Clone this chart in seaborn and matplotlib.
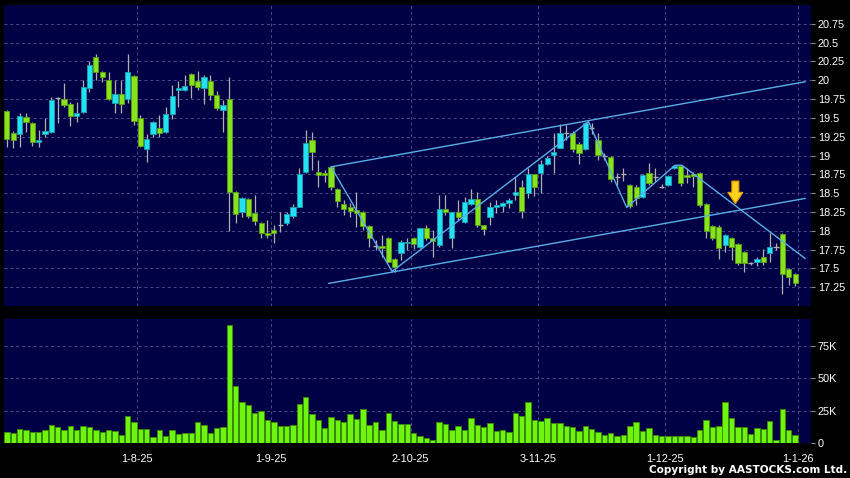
import numpy as np
import pandas as pd
import matplotlib
matplotlib.use("Agg")
import matplotlib.pyplot as plt
from matplotlib.patches import FancyArrow
import seaborn as sns

# daily candles (index = trading day)
opens = [19.59, 19.30, 19.29, 19.51, 19.43, 19.18, 19.29, 19.31, 19.76, 19.75,
         19.69, 19.53, 19.58, 19.90, 20.31, 20.11, 20.00, 19.70, 19.82, 19.75,
         20.06, 19.50, 19.09, 19.29, 19.37, 19.31, 19.55, 19.87, 19.87, 20.08,
         19.99, 19.90, 19.99, 19.81, 19.61, 19.75, 18.52, 18.25, 18.42, 18.24,
         18.10, 17.97, 18.01, 18.08, 18.10, 18.20, 18.32, 18.78, 19.21, 18.78,
         18.77, 18.85, 18.56, 18.36, 18.32, 18.28, 18.25, 18.06, 17.80, 17.80,
         17.91, 17.63, 17.71, 17.84, 17.91, 17.79, 18.03, 17.91, 17.81, 18.29,
         17.91, 18.25, 18.12, 18.36, 18.42, 18.07, 18.18, 18.32, 18.33, 18.37,
         18.48, 18.58, 18.50, 18.76, 18.77, 18.89, 19.01, 19.10, 19.30, 19.30,
         19.15, 19.09, 19.37, 19.21, 18.99, 18.98, 18.72, 18.76, 18.61, 18.58,
         18.45, 18.77, 18.72, 18.58, 18.61, 18.84, 18.86, 18.74, 18.76, 18.77,
         18.36, 18.06, 18.05, 17.81, 17.91, 17.83, 17.72, 17.57, 17.59, 17.65,
         17.71, 17.79, 17.96, 17.49, 17.43]
closes = [19.22, 19.21, 19.53, 19.45, 19.18, 19.21, 19.33, 19.74, 19.76, 19.67,
          19.53, 19.57, 19.91, 20.20, 20.11, 20.04, 19.75, 19.82, 19.69, 20.11,
          19.46, 19.13, 19.22, 19.45, 19.30, 19.55, 19.79, 19.90, 19.92, 19.94,
          19.91, 20.04, 19.81, 19.63, 19.67, 18.52, 18.22, 18.44, 18.20, 18.13,
          17.97, 17.95, 17.97, 18.08, 18.22, 18.32, 18.76, 19.17, 19.05, 18.74,
          18.74, 18.58, 18.40, 18.29, 18.26, 18.24, 18.06, 17.91, 17.80, 17.77,
          17.59, 17.52, 17.85, 17.85, 17.83, 18.03, 17.91, 17.87, 18.29, 18.25,
          18.25, 18.18, 18.38, 18.42, 18.07, 18.02, 18.32, 18.34, 18.37, 18.41,
          18.52, 18.26, 18.76, 18.58, 18.89, 18.97, 19.05, 19.30, 19.30, 19.09,
          19.03, 19.43, 19.37, 19.01, 18.99, 18.69, 18.72, 18.76, 18.33, 18.44,
          18.74, 18.64, 18.72, 18.58, 18.73, 18.86, 18.64, 18.72, 18.73, 18.34,
          18.00, 17.91, 17.77, 17.95, 17.79, 17.57, 17.57, 17.57, 17.63, 17.59,
          17.79, 17.79, 17.43, 17.39, 17.31]
highs = [19.61, 19.33, 19.57, 19.57, 19.45, 19.34, 19.50, 19.78, 19.78, 19.96,
         19.71, 19.71, 20.00, 20.26, 20.35, 20.12, 20.11, 20.00, 20.00, 20.35,
         20.07, 19.54, 19.29, 19.46, 19.54, 19.65, 19.94, 19.99, 20.07, 20.10,
         20.12, 20.07, 20.07, 19.86, 19.74, 20.04, 18.53, 18.45, 18.44, 18.48,
         18.12, 18.14, 18.08, 18.25, 18.25, 18.36, 18.84, 19.34, 19.31, 18.94,
         18.81, 18.86, 18.57, 18.41, 18.37, 18.52, 18.26, 18.08, 17.88, 17.95,
         17.92, 17.64, 17.88, 17.91, 17.92, 18.04, 18.07, 18.01, 18.48, 18.48,
         18.25, 18.41, 18.45, 18.56, 18.52, 18.07, 18.38, 18.41, 18.38, 18.44,
         18.72, 18.68, 18.84, 18.76, 18.94, 18.99, 19.30, 19.42, 19.41, 19.33,
         19.18, 19.45, 19.43, 19.30, 19.03, 18.99, 18.77, 18.84, 18.62, 18.61,
         18.76, 18.90, 18.84, 18.62, 18.74, 18.88, 18.88, 18.84, 18.78, 18.78,
         18.37, 18.07, 18.07, 17.96, 17.92, 17.84, 17.73, 17.59, 17.65, 17.76,
         17.97, 17.84, 17.97, 17.51, 17.44]
lows = [19.11, 19.10, 19.11, 19.31, 19.13, 19.11, 19.25, 19.30, 19.43, 19.65,
        19.39, 19.45, 19.57, 19.85, 20.00, 19.98, 19.74, 19.57, 19.57, 19.70,
        19.41, 19.11, 18.92, 19.25, 19.25, 19.30, 19.49, 19.65, 19.86, 19.77,
        19.87, 19.69, 19.74, 19.61, 19.31, 18.00, 18.10, 18.18, 18.17, 18.08,
        17.91, 17.91, 17.84, 17.99, 18.08, 18.17, 18.32, 18.77, 18.81, 18.58,
        18.65, 18.54, 18.32, 18.21, 18.18, 18.05, 18.01, 17.79, 17.75, 17.65,
        17.58, 17.45, 17.61, 17.75, 17.76, 17.77, 17.88, 17.65, 17.79, 18.21,
        17.77, 18.14, 18.10, 18.34, 18.05, 17.95, 18.08, 18.24, 18.25, 18.30,
        18.41, 18.17, 18.44, 18.46, 18.50, 18.88, 18.77, 19.10, 19.21, 19.05,
        18.89, 19.07, 19.29, 18.94, 18.94, 18.65, 18.61, 18.66, 18.30, 18.34,
        18.44, 18.61, 18.66, 18.57, 18.60, 18.82, 18.60, 18.64, 18.58, 18.32,
        17.91, 17.88, 17.63, 17.72, 17.61, 17.55, 17.45, 17.55, 17.53, 17.55,
        17.59, 17.75, 17.16, 17.28, 17.26]
# volume in thousands of shares
volumes = [8.2, 7.7, 11.0, 10.3, 8.7, 8.7, 10.0, 14.1, 12.3, 10.3,
           12.9, 10.3, 13.4, 12.6, 10.3, 8.2, 10.0, 9.5, 6.2, 20.8,
           16.4, 11.0, 11.0, 4.6, 9.8, 5.1, 10.0, 6.7, 7.7, 7.7,
           16.2, 13.9, 8.0, 11.3, 12.1, 91.0, 44.5, 31.6, 29.8, 23.4,
           24.4, 18.0, 15.9, 13.4, 13.4, 13.9, 30.3, 36.0, 22.6, 17.7,
           11.8, 20.3, 18.0, 15.9, 22.1, 18.8, 26.5, 13.9, 16.4, 9.8,
           23.1, 17.2, 14.9, 14.9, 7.7, 5.1, 4.1, 2.6, 16.0, 14.7,
           9.8, 12.9, 9.8, 19.3, 14.1, 12.1, 15.5, 9.3, 9.8, 8.2,
           23.2, 20.6, 32.0, 17.5, 17.0, 19.6, 15.5, 15.5, 13.4, 12.1,
           9.0, 12.9, 11.1, 8.2, 6.2, 7.7, 5.2, 6.4, 12.9, 16.5,
           9.3, 11.6, 5.9, 5.2, 5.2, 5.7, 5.7, 5.2, 4.6, 9.8,
           18.0, 12.4, 12.9, 32.0, 19.1, 12.4, 12.4, 7.0, 11.9, 11.1,
           16.8, 2.6, 26.5, 10.3, 5.9]

month_pos = [20.5, 41.5, 63.5, 83.5, 103.5, 124.5]
month_labels = ["1-8-25", "1-9-25", "2-10-25", "3-11-25", "1-12-25", "1-1-26"]
price_ticks = [17.25, 17.5, 17.75, 18.0, 18.25, 18.5, 18.75, 19.0, 19.25,
               19.5, 19.75, 20.0, 20.25, 20.5, 20.75]
vol_ticks = [0, 25, 50, 75]
vol_labels = ["0", "25K", "50K", "75K"]

# hand drawn trend lines (day index, price)
upper_x = [51.0, 125.6]
upper_y = [18.85, 19.98]
lower_x = [50.6, 125.6]
lower_y = [17.30, 18.43]
zigzag_x = [51.0, 60.6, 91.5, 97.5, 105.1, 106.2, 125.6]
zigzag_y = [18.85, 17.46, 19.45, 18.31, 18.87, 18.87, 17.63]

df = pd.DataFrame({"open": opens, "high": highs, "low": lows,
                   "close": closes, "volume": volumes})
df["day"] = np.arange(len(df))

sns.set_style("dark")
plt.rcParams["font.family"] = ["Liberation Sans", "DejaVu Sans"]

bg = "#000044"
grid_c = "#4a4a8c"
green, green_e = "#86e31e", "#5a9e10"
cyan, cyan_e = "#22e2f2", "#1a9fb0"
wick_c = "#b0b0b0"
line_c = "#5aaee8"

fig = plt.figure(figsize=(8.5, 4.78), dpi=100, facecolor="black")
ax = fig.add_axes([4 / 850, 1 - 306 / 478, 807 / 850, 301 / 478])
axv = fig.add_axes([4 / 850, 1 - 443 / 478, 807 / 850, 124 / 478])

for a in (ax, axv):
    a.set_facecolor(bg)
    for s in a.spines.values():
        s.set_visible(False)
    a.yaxis.tick_right()
    a.tick_params(axis="y", colors="#909090", labelcolor="white",
                  labelsize=7.8, length=3, pad=2, direction="out")
    for xp in month_pos:
        a.axvline(xp, color=grid_c, lw=0.7, ls=(0, (3, 3)), zorder=0)

# candles
up = df["close"] > df["open"]
down = df["close"] < df["open"]
flat = df["close"] == df["open"]
ax.vlines(df["day"], df["low"], df["high"], color=wick_c, lw=0.9, zorder=2)
body_lo = np.minimum(df["open"], df["close"])
body_h = (df["close"] - df["open"]).abs()
ax.bar(df["day"][down], body_h[down], bottom=body_lo[down], width=0.82,
       color=green, edgecolor=green_e, linewidth=0.6, zorder=3)
ax.bar(df["day"][up], body_h[up], bottom=body_lo[up], width=0.82,
       color=cyan, edgecolor=cyan_e, linewidth=0.6, zorder=3)
ax.hlines(df["close"][flat], df["day"][flat] - 0.41, df["day"][flat] + 0.41,
          color=wick_c, lw=1.0, zorder=3)

ax.plot(upper_x, upper_y, color=line_c, lw=1.0, zorder=4)
ax.plot(lower_x, lower_y, color=line_c, lw=1.0, zorder=4)
ax.plot(zigzag_x, zigzag_y, color=line_c, lw=1.0, zorder=4)

ax.add_patch(FancyArrow(114.6, 18.66, 0, -0.30, width=1.1, head_width=2.4,
                        head_length=0.15, length_includes_head=True,
                        facecolor="#ffd21e", edgecolor="#e09a00", lw=0.8,
                        zorder=5))

ax.set_xlim(-0.45, 126.5)
ax.set_ylim(17.0, 21.0)
ax.set_yticks(price_ticks)
ax.set_yticklabels([f"{v:g}" for v in price_ticks])
ax.set_xticks([])
for yv in price_ticks:
    ax.axhline(yv, color=grid_c, lw=0.7, ls=(0, (3, 3)), zorder=0)

# volume
sns.barplot(data=df, x="day", y="volume", ax=axv, native_scale=True,
            color="#6ef50f", saturation=1, width=0.85, errorbar=None,
            edgecolor="#3a8c00", linewidth=0.6, zorder=3)
axv.set_xlim(-0.45, 126.5)
axv.set_ylim(0, 96)
axv.set_yticks(vol_ticks)
axv.set_yticklabels(vol_labels)
for yv in vol_ticks[1:]:
    axv.axhline(yv, color=grid_c, lw=0.7, ls=(0, (3, 3)), zorder=0)
axv.set_xticks(month_pos)
axv.set_xticklabels(month_labels)
axv.tick_params(axis="x", colors="#909090", labelcolor="white",
                labelsize=7.8, length=3, pad=5, direction="out")
axv.set_xlabel("")
axv.set_ylabel("")
axv.grid(False)
ax.grid(False)

fig.text(847 / 850, 1 - 470 / 478, "Copyright by AASTOCKS.com Ltd.",
         color="white", fontsize=7.6, fontweight="bold", ha="right",
         va="center", family=["DejaVu Sans"])

fig.savefig("out.png", dpi=100, facecolor="black")
